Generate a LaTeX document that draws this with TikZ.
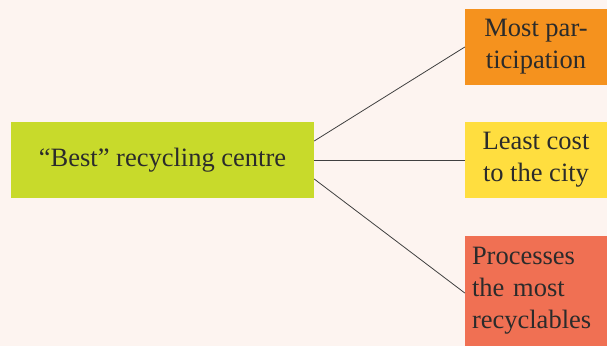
\documentclass[tikz,border=0pt]{standalone}
\usepackage{fontspec}
\setmainfont{Liberation Serif}
\usepackage{tikz}
\usetikzlibrary{positioning}

\definecolor{bgpink}{HTML}{FDF4F0}
\definecolor{limebox}{HTML}{C8DA2B}
\definecolor{orangebox}{HTML}{F5921E}
\definecolor{yellowbox}{HTML}{FFDE3F}
\definecolor{redbox}{HTML}{F07053}
\definecolor{inktext}{HTML}{2B2B2B}

\begin{document}
\begin{tikzpicture}[
                    x=1pt, y=1pt,
                    every node/.style={font=\fontsize{26.5}{32}\selectfont, text=inktext, inner sep=0pt},
                    goal/.style={fill=limebox, minimum width=303pt, minimum height=76pt},
                    crit/.style={minimum width=142pt, minimum height=76pt, align=center},
                    link/.style={draw=inktext!90, line width=0.8pt}
                ]
                  \fill[bgpink] (0,0) rectangle (607,-346);
                  \useasboundingbox (0,0) rectangle (607,-346);
                  \node[goal] (best) at (162.5,-160) {``Best'' recycling centre};
                  \node[crit, fill=orangebox] (part) at (536,-47) {Most par-\\ticipation};
                  \node[crit, fill=yellowbox] (cost) at (536,-160) {Least cost\\to the city};
                  \node[crit, fill=redbox, minimum height=110pt, align=left, text width=128pt] (proc) at (536,-291) {Processes\\the most\\recyclables};
                  \draw[link] ([yshift=19pt]best.east) -- (part.west);
                  \draw[link] (best.east) -- (cost.west);
                  \draw[link] ([yshift=-19pt]best.east) -- ([yshift=-2pt]proc.west);
                \end{tikzpicture}
\end{document}
